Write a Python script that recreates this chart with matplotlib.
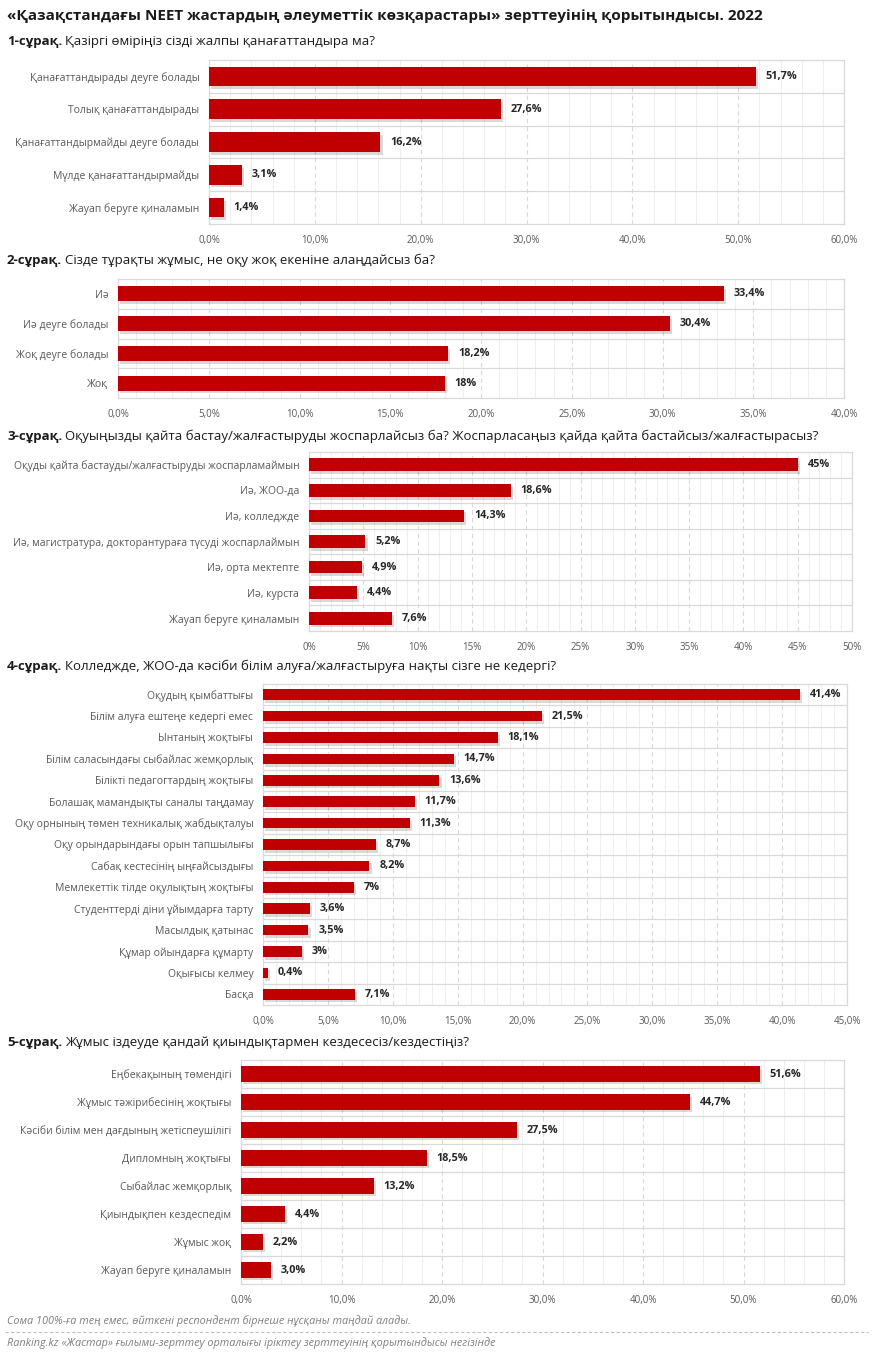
import matplotlib.pyplot as plt
import matplotlib.patheffects as pe
from matplotlib.ticker import MultipleLocator, FuncFormatter
from matplotlib.lines import Line2D

plt.rcParams['font.family'] = ['Open Sans', 'DejaVu Sans']

# --- data ---
q1_cats = ['Қанағаттандырады деуге болады', 'Толық қанағаттандырады',
           'Қанағаттандырмайды деуге болады', 'Мүлде қанағаттандырмайды',
           'Жауап беруге қиналамын']
q1_vals = [51.7, 27.6, 16.2, 3.1, 1.4]
q1_labels = ['51,7%', '27,6%', '16,2%', '3,1%', '1,4%']

q2_cats = ['Иә', 'Иә деуге болады', 'Жоқ деуге болады', 'Жоқ']
q2_vals = [33.4, 30.4, 18.2, 18.0]
q2_labels = ['33,4%', '30,4%', '18,2%', '18%']

q3_cats = ['Оқуды қайта бастауды/жалғастыруды жоспарламаймын', 'Иә, ЖОО-да',
           'Иә, колледжде', 'Иә, магистратура, докторантураға түсуді жоспарлаймын',
           'Иә, орта мектепте', 'Иә, курста', 'Жауап беруге қиналамын']
q3_vals = [45, 18.6, 14.3, 5.2, 4.9, 4.4, 7.6]
q3_labels = ['45%', '18,6%', '14,3%', '5,2%', '4,9%', '4,4%', '7,6%']

q4_cats = ['Оқудың қымбаттығы', 'Білім алуға ештеңе кедергі емес', 'Ынтаның жоқтығы',
           'Білім саласындағы сыбайлас жемқорлық', 'Білікті педагогтардың жоқтығы',
           'Болашақ мамандықты саналы таңдамау', 'Оқу орнының төмен техникалық жабдықталуы',
           'Оқу орындарындағы орын тапшылығы', 'Сабақ кестесінің ыңғайсыздығы',
           'Мемлекеттік тілде оқулықтың жоқтығы', 'Студенттерді діни ұйымдарға тарту',
           'Масылдық қатынас', 'Құмар ойындарға құмарту', 'Оқығысы келмеу', 'Басқа']
q4_vals = [41.4, 21.5, 18.1, 14.7, 13.6, 11.7, 11.3, 8.7, 8.2, 7, 3.6, 3.5, 3, 0.4, 7.1]
q4_labels = ['41,4%', '21,5%', '18,1%', '14,7%', '13,6%', '11,7%', '11,3%', '8,7%',
             '8,2%', '7%', '3,6%', '3,5%', '3%', '0,4%', '7,1%']

q5_cats = ['Еңбекақының төмендігі', 'Жұмыс тәжірибесінің жоқтығы',
           'Кәсіби білім мен дағдының жетіспеушілігі', 'Дипломның жоқтығы',
           'Сыбайлас жемқорлық', 'Қиындықпен кездеспедім', 'Жұмыс жоқ',
           'Жауап беруге қиналамын']
q5_vals = [51.6, 44.7, 27.5, 18.5, 13.2, 4.4, 2.2, 3.0]
q5_labels = ['51,6%', '44,7%', '27,5%', '18,5%', '13,2%', '4,4%', '2,2%', '3,0%']

W, H = 872, 1354
fig = plt.figure(figsize=(W / 100, H / 100), dpi=100)

RED = '#c00000'
GRID = '#d9d9d9'
TICK = '#595959'


def px_axes(left, top, right, bottom):
    return fig.add_axes([left / W, 1 - bottom / H, (right - left) / W, (bottom - top) / H])


def draw_panel(box, cats, vals, labels, xmax, major, minor, fmt, bar_h):
    ax = px_axes(*box)
    n = len(cats)
    y = list(range(n))
    bars = ax.barh(y, vals, height=bar_h, color=RED, zorder=3)
    for b in bars:
        b.set_path_effects([pe.SimplePatchShadow(offset=(1.5, -2), shadow_rgbFace='#000000', alpha=0.15),
                            pe.Normal()])
    for yi, v, lab in zip(y, vals, labels):
        ax.annotate(lab, (v, yi), xytext=(7, 0), textcoords='offset points',
                    va='center', ha='left', fontsize=7.8, fontweight='bold', color='#262626')
    ax.set_xlim(0, xmax)
    ax.set_ylim(n - 0.5, -0.5)
    ax.set_yticks(y)
    ax.set_yticklabels(cats, fontsize=7.5, color=TICK)
    ax.set_yticks([i + 0.5 for i in range(n - 1)], minor=True)
    ax.xaxis.set_major_locator(MultipleLocator(major))
    ax.xaxis.set_minor_locator(MultipleLocator(minor))
    ax.xaxis.set_major_formatter(FuncFormatter(fmt))
    ax.tick_params(axis='both', which='both', length=0)
    ax.tick_params(axis='y', pad=7)
    ax.tick_params(axis='x', labelsize=7, labelcolor=TICK, pad=8)
    ax.grid(axis='x', which='major', color=GRID, linestyle=(0, (4, 3)), linewidth=0.8, zorder=0)
    ax.grid(axis='x', which='minor', color='#efefef', linewidth=0.8, zorder=0)
    ax.grid(axis='y', which='minor', color=GRID, linewidth=0.9, zorder=0)
    for s in ax.spines.values():
        s.set_color(GRID)
        s.set_linewidth(0.9)
    return ax


def pct1(x, pos):
    return f'{x:.1f}%'.replace('.', ',')


def pct0(x, pos):
    return f'{x:.0f}%'


def question_line(ypx, bold, rest):
    t = fig.text(7 / W, 1 - ypx / H, bold, fontsize=9.5, fontweight='bold', va='baseline',
                 ha='left', color='#1a1a1a')
    fig.canvas.draw()
    bb = t.get_window_extent()
    fig.text(bb.x1 / W + 3 / W, 1 - ypx / H, rest, fontsize=9.5, va='baseline', ha='left',
             color='#1a1a1a')


fig.text(7 / W, 1 - 20 / H, '«Қазақстандағы NEET жастардың әлеуметтік көзқарастары» зерттеуінің қорытындысы. 2022',
         fontsize=11, fontweight='bold', va='baseline', ha='left', color='#1a1a1a')

question_line(45, '1-сұрақ.', 'Қазіргі өміріңіз сізді жалпы қанағаттандыра ма?')
draw_panel((209, 60, 844, 224), q1_cats, q1_vals, q1_labels, 60, 10, 2, pct1, 0.6)

question_line(264, '2-сұрақ.', 'Сізде тұрақты жұмыс, не оқу жоқ екеніне алаңдайсыз ба?')
draw_panel((118, 279, 844, 398), q2_cats, q2_vals, q2_labels, 40, 5, 1, pct1, 0.5)

question_line(440, '3-сұрақ.', 'Оқуыңызды қайта бастау/жалғастыруды жоспарлайсыз ба? Жоспарласаңыз қайда қайта бастайсыз/жалғастырасыз?')
draw_panel((309, 452, 852, 631), q3_cats, q3_vals, q3_labels, 50, 5, 1, pct0, 0.5)

question_line(670, '4-сұрақ.', 'Колледжде, ЖОО-да кәсіби білім алуға/жалғастыруға нақты сізге не кедергі?')
draw_panel((263, 684, 847, 1005), q4_cats, q4_vals, q4_labels, 45, 5, 1, pct1, 0.5)

question_line(1046, '5-сұрақ.', 'Жұмыс іздеуде қандай қиындықтармен кездесесіз/кездестіңіз?')
draw_panel((241, 1060, 844, 1284), q5_cats, q5_vals, q5_labels, 60, 10, 2, pct1, 0.55)

fig.text(7 / W, 1 - 1324 / H, 'Сома 100%-ға тең емес, өйткені респондент бірнеше нұсқаны таңдай алады.',
         fontsize=7.8, fontstyle='italic', color='#7f7f7f', va='baseline', ha='left')
fig.add_artist(Line2D([5 / W, 868 / W], [1 - 1332 / H, 1 - 1332 / H], transform=fig.transFigure,
                      color='#bfbfbf', linewidth=0.8, linestyle=(0, (3, 2))))
fig.text(7 / W, 1 - 1346 / H, 'Ranking.kz «Жастар» ғылыми-зерттеу орталығы іріктеу зерттеуінің қорытындысы негізінде',
         fontsize=7.8, fontstyle='italic', color='#7f7f7f', va='baseline', ha='left')

fig.savefig('out.png', dpi=100)
